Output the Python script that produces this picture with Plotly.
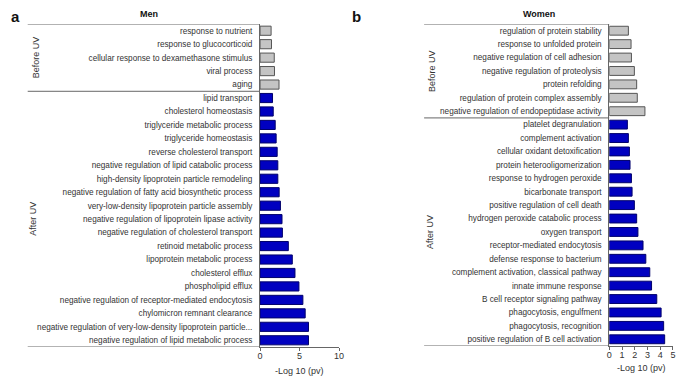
import plotly.graph_objects as go

W, H = 699, 381

# ---------------- data ----------------
men_before_labels = ["response to nutrient", "response to glucocorticoid",
                     "cellular response to dexamethasone stimulus", "viral process", "aging"]
men_before_values = [1.4, 1.45, 1.8, 1.83, 2.4]
men_after_labels = ["lipid transport", "cholesterol homeostasis", "triglyceride metabolic process",
                    "triglyceride homeostasis", "reverse cholesterol transport",
                    "negative regulation of lipid catabolic process",
                    "high-density lipoprotein particle remodeling",
                    "negative regulation of fatty acid biosynthetic process",
                    "very-low-density lipoprotein particle assembly",
                    "negative regulation of lipoprotein lipase activity",
                    "negative regulation of cholesterol transport",
                    "retinoid metabolic process", "lipoprotein metabolic process",
                    "cholesterol efflux", "phospholipid efflux",
                    "negative regulation of receptor-mediated endocytosis",
                    "chylomicron remnant clearance",
                    "negative regulation of very-low-density lipoprotein particle...",
                    "negative regulation of lipid metabolic process"]
men_after_values = [1.58, 1.67, 1.92, 2.04, 2.17, 2.25, 2.25, 2.42, 2.58, 2.78, 2.83,
                    3.58, 4.08, 4.42, 4.92, 5.42, 5.71, 6.13, 6.13]

women_before_labels = ["regulation of protein stability", "response to unfolded protein",
                       "negative regulation of cell adhesion", "negative regulation of proteolysis",
                       "protein refolding", "regulation of protein complex assembly",
                       "negative regulation of endopeptidase activity"]
women_before_values = [1.5, 1.71, 1.74, 1.97, 2.15, 2.2, 2.8]
women_after_labels = ["platelet degranulation", "complement activation",
                      "cellular oxidant detoxification", "protein heterooligomerization",
                      "response to hydrogen peroxide", "bicarbonate transport",
                      "positive regulation of cell death", "hydrogen peroxide catabolic process",
                      "oxygen transport", "receptor-mediated endocytosis",
                      "defense response to bacterium", "complement activation, classical pathway",
                      "innate immune response", "B cell receptor signaling pathway",
                      "phagocytosis, engulfment", "phagocytosis, recognition",
                      "positive regulation of B cell activation"]
women_after_values = [1.42, 1.5, 1.58, 1.63, 1.74, 1.79, 1.97, 2.15, 2.25, 2.65, 2.87,
                      3.18, 3.32, 3.73, 4.07, 4.27, 4.35]

men_ticks = [0, 5, 10]
women_ticks = [0, 1, 2, 3, 4, 5]

GRAY_FILL, GRAY_LINE = "#c4c4c4", "#555555"
BLUE_FILL, BLUE_LINE = "#0000c0", "#00006a"
AXIS = "#666666"
TXT = "#333333"
FONT = "Liberation Sans, Arial, sans-serif"

def px_x(p):
    return p / W

def px_y(p):
    return 1 - p / H

fig = go.Figure()

panels = [
    dict(before_l=men_before_labels, before_v=men_before_values,
         after_l=men_after_labels, after_v=men_after_values,
         xa="x", ya="y", x0=260, x1=340, y0=24, y1=347, left=25, xr=[0, 10],
         ticks=men_ticks, width=0.68, title="Men", tx=148, letter="a", lx=13,
         axt_x=300, axt_y=371),
    dict(before_l=women_before_labels, before_v=women_before_values,
         after_l=women_after_labels, after_v=women_after_values,
         xa="x2", ya="y2", x0=613.3, x1=677.7, y0=24, y1=346, left=426, xr=[0, 5],
         ticks=women_ticks, width=0.66, title="Women", tx=542, letter="b", lx=358,
         axt_x=646, axt_y=368),
]

for i, p in enumerate(panels):
    cats = p["before_l"] + p["after_l"]
    nb = len(p["before_l"])
    n = len(cats)
    fig.add_trace(go.Bar(
        y=p["before_l"], x=p["before_v"], orientation="h", xaxis=p["xa"], yaxis=p["ya"],
        marker=dict(color=GRAY_FILL, line=dict(color=GRAY_LINE, width=1)),
        width=p["width"], showlegend=False, hoverinfo="x+y"))
    fig.add_trace(go.Bar(
        y=p["after_l"], x=p["after_v"], orientation="h", xaxis=p["xa"], yaxis=p["ya"],
        marker=dict(color=BLUE_FILL, line=dict(color=BLUE_LINE, width=1)),
        width=p["width"], showlegend=False, hoverinfo="x+y"))

    suffix = "" if i == 0 else "2"
    fig.layout["xaxis" + suffix] = dict(
        domain=[px_x(p["x0"]), px_x(p["x1"])], range=p["xr"], anchor="y" + suffix,
        tickvals=p["ticks"], showgrid=False, zeroline=False, showline=True,
        linecolor=AXIS, linewidth=1, ticks="outside", ticklen=3, tickcolor=AXIS,
        ticklabelstandoff=-3,
        tickfont=dict(family=FONT, size=9, color=TXT), fixedrange=True)
    fig.layout["yaxis" + suffix] = dict(
        domain=[px_y(p["y1"]), px_y(p["y0"])], type="category",
        categoryorder="array", categoryarray=cats, range=[n - 0.5, -0.5],
        anchor="x" + suffix, showgrid=False, zeroline=False, showline=True,
        linecolor=AXIS, linewidth=1, ticks="", ticklabelstandoff=5,
        tickfont=dict(family=FONT, size=8.2, color=TXT), fixedrange=True)

    xl, xa0 = px_x(p["left"]), px_x(p["x0"])
    # top line, separator, bottom extension
    for yy in (-0.5, nb - 0.5, n - 0.5):
        fig.add_shape(type="line", xref="paper", yref="y" + suffix, x0=xl, x1=xa0,
                      y0=yy, y1=yy, line=dict(color=AXIS, width=1))

    # group labels
    fig.add_annotation(xref="paper", yref="y" + suffix, x=px_x(p["left"] + 8),
                       y=(nb - 1) / 2, text="Before UV", textangle=-90, showarrow=False,
                       font=dict(family=FONT, size=9, color=TXT),
                       xanchor="center", yanchor="middle")
    fig.add_annotation(xref="paper", yref="y" + suffix, x=px_x(p["left"] + 6),
                       y=(nb + n - 1) / 2, text="After UV", textangle=-90, showarrow=False,
                       font=dict(family=FONT, size=9, color=TXT),
                       xanchor="center", yanchor="middle")
    # title, letter, axis title
    fig.add_annotation(xref="paper", yref="paper", x=px_x(p["tx"]), y=px_y(14),
                       text="<b>" + p["title"] + "</b>", showarrow=False,
                       font=dict(family=FONT, size=9, color="#111"),
                       xanchor="center", yanchor="middle")
    fig.add_annotation(xref="paper", yref="paper", x=px_x(p["lx"]), y=px_y(17),
                       text="<b>" + p["letter"] + "</b>", showarrow=False,
                       font=dict(family=FONT, size=15, color="#111"),
                       xanchor="center", yanchor="middle")
    fig.add_annotation(xref="paper", yref="paper", x=px_x(p["axt_x"]), y=px_y(p["axt_y"]),
                       text="-Log 10 (pv)", showarrow=False,
                       font=dict(family=FONT, size=9, color=TXT),
                       xanchor="center", yanchor="middle")

fig.update_layout(width=W, height=H, margin=dict(l=0, r=0, t=0, b=0),
                  paper_bgcolor="white", plot_bgcolor="white", bargap=0.3,
                  font=dict(family=FONT))

fig.write_html("out.html", config={"displayModeBar": False},
               post_script="document.body.style.margin='0';document.body.style.overflow='hidden';")
